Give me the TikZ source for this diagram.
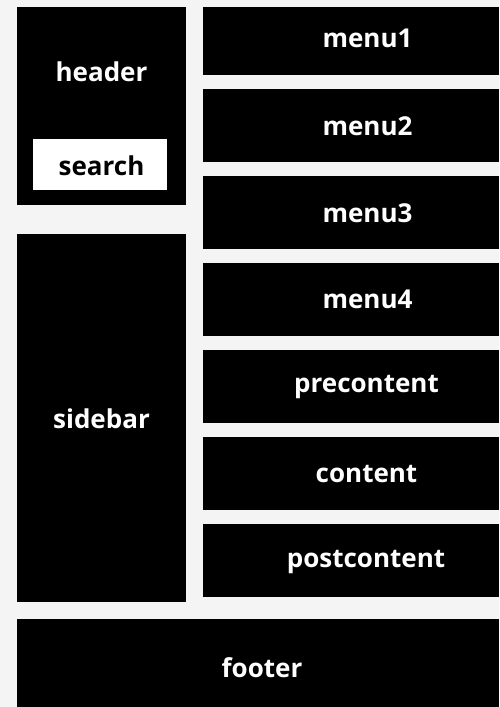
\documentclass[tikz,border=0pt]{standalone}
\usepackage{fontspec}
\setmainfont{Open Sans}
\definecolor{bgc}{RGB}{244,244,244}
\begin{document}
\begin{tikzpicture}[x=1pt,y=-1pt,
  blk/.style={fill=black, inner sep=0pt, outer sep=0pt},
  wbox/.style={fill=white, inner sep=0pt, outer sep=0pt},
  lbl/.style={text=white, inner sep=0pt, anchor=base, font=\fontsize{26}{30}\selectfont\bfseries},
  dlbl/.style={lbl, text=black}]
\fill[bgc] (0,0) rectangle (499,707);
\useasboundingbox (0,0) rectangle (499,707);
% left column
\node[blk, minimum width=169pt, minimum height=198pt] (header) at (101.5,106) {};
\node[lbl] (headertxt) at (101.5,81) {header};
\node[wbox, minimum width=134pt, minimum height=51pt] (search) at (100,164.5) {};
\node[dlbl] (searchtxt) at (101.5,175) {search};
\node[blk, minimum width=169pt, minimum height=368pt] (sidebar) at (101.5,417.8) {};
\node[lbl] (sidebartxt) at (101.5,428.3) {sidebar};
% right column
\node[blk, minimum width=296pt, minimum height=68pt] (menu1) at (351,41) {};
\node[blk, minimum width=296pt, minimum height=73pt] (menu2) at (351,125.3) {};
\node[blk, minimum width=296pt, minimum height=73pt] (menu3) at (351,212.3) {};
\node[blk, minimum width=296pt, minimum height=73pt] (menu4) at (351,299.3) {};
\node[blk, minimum width=296pt, minimum height=73pt] (precontent) at (351,386.3) {};
\node[blk, minimum width=296pt, minimum height=73pt] (content) at (351,473.3) {};
\node[blk, minimum width=296pt, minimum height=73pt] (postcontent) at (351,560.5) {};
\node[lbl] (menu1txt) at (367.5,47.5) {menu1};
\node[lbl] (menu2txt) at (367.5,135) {menu2};
\node[lbl] (menu3txt) at (367.5,222) {menu3};
\node[lbl] (menu4txt) at (367.5,308.7) {menu4};
\node[lbl] (precontenttxt) at (366.5,392.5) {precontent};
\node[lbl] (contenttxt) at (366.5,482) {content};
\node[lbl] (postcontenttxt) at (366,567) {postcontent};
% footer
\node[blk, minimum width=482pt, minimum height=88pt] (footer) at (258,663) {};
\node[lbl] (footertxt) at (262,677) {footer};
\end{tikzpicture}
\end{document}
